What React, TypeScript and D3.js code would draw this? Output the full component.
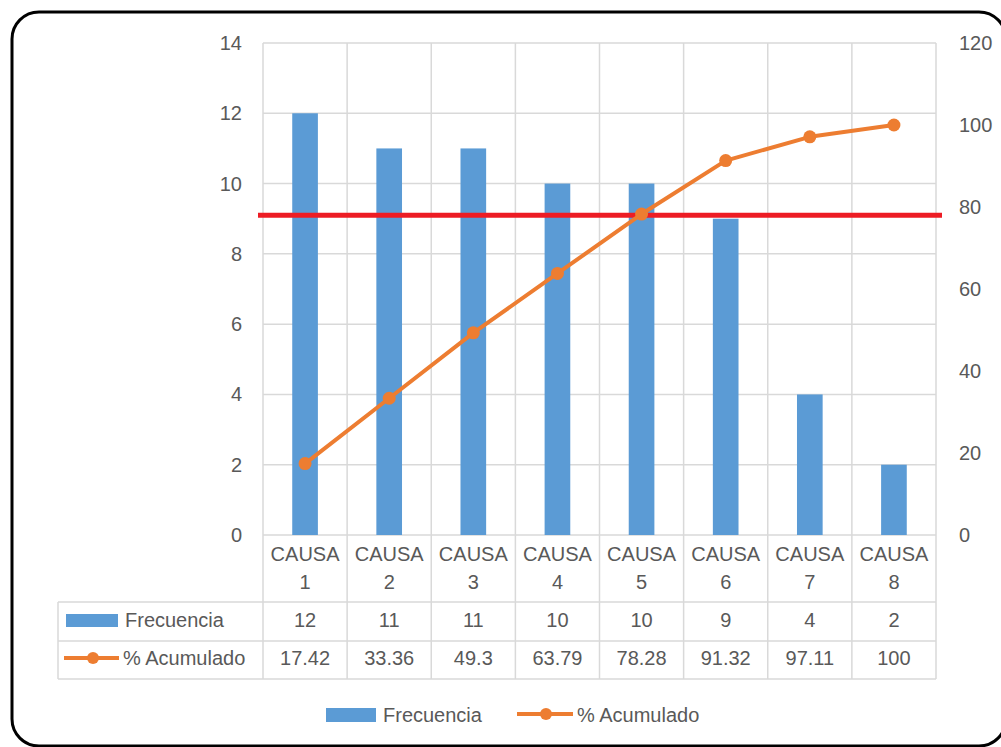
import React from "react";
import * as d3 from "d3";

const categories = ["CAUSA 1", "CAUSA 2", "CAUSA 3", "CAUSA 4", "CAUSA 5", "CAUSA 6", "CAUSA 7", "CAUSA 8"];
const frecuencia = [12, 11, 11, 10, 10, 9, 4, 2];
const acumulado = [17.42, 33.36, 49.3, 63.79, 78.28, 91.32, 97.11, 100];
const leftTicks = [0, 2, 4, 6, 8, 10, 12, 14];
const rightTicks = [0, 20, 40, 60, 80, 100, 120];
const threshold = 78;
const seriesNames = ["Frecuencia", "% Acumulado"];

const W = 1001;
const H = 747;
const plotL = 263;
const plotR = 936;
const plotT = 43;
const plotB = 535;
const tableL = 58;
const row1B = 602;
const row2B = 641;
const row3B = 679;

const BLUE = "#5B9BD5";
const ORANGE = "#ED7D31";
const RED = "#ED1C24";
const GRID = "#D9D9D9";
const TEXT = "#595959";
const FONT = "'Liberation Sans', Arial, sans-serif";

export default function App() {
  const x = d3.scaleBand<string>().domain(categories).range([plotL, plotR]).paddingInner(0).paddingOuter(0);
  const yL = d3.scaleLinear().domain([0, 14]).range([plotB, plotT]);
  const yR = d3.scaleLinear().domain([0, 120]).range([plotB, plotT]);
  const bw = x.bandwidth();
  const barW = bw * 0.305;
  const line = d3
    .line<number>()
    .x((_, i) => (x(categories[i]) as number) + bw / 2)
    .y((d) => yR(d));
  const bounds = [...categories.map((c) => x(c) as number), plotR];

  return (
    <svg width={W} height={H} style={{ display: "block", position: "absolute", left: 0, top: 0 }} fontFamily={FONT}>
      <rect x={0} y={0} width={W} height={H} fill="#fff" />
      <rect x={12} y={12} width={994} height={734} rx={27} ry={27} fill="#fff" stroke="#000" strokeWidth={3} />

      {/* horizontal gridlines */}
      {leftTicks.map((t) => (
        <line key={"h" + t} x1={plotL} x2={plotR} y1={yL(t)} y2={yL(t)} stroke={GRID} strokeWidth={1.5} />
      ))}
      {/* vertical gridlines / table columns */}
      {bounds.map((b, i) => (
        <line key={"v" + i} x1={b} x2={b} y1={plotT} y2={row3B} stroke={GRID} strokeWidth={1.5} />
      ))}
      {/* table lines */}
      <line x1={tableL} x2={tableL} y1={row1B} y2={row3B} stroke={GRID} strokeWidth={1.5} />
      {[row1B, row2B, row3B].map((yy) => (
        <line key={"r" + yy} x1={tableL} x2={plotR} y1={yy} y2={yy} stroke={GRID} strokeWidth={1.5} />
      ))}

      {/* bars */}
      {frecuencia.map((v, i) => (
        <rect
          key={"b" + i}
          x={(x(categories[i]) as number) + bw / 2 - barW / 2}
          y={yL(v)}
          width={barW}
          height={yL(0) - yL(v)}
          fill={BLUE}
        />
      ))}

      {/* threshold line */}
      <line x1={258} x2={942} y1={yR(threshold)} y2={yR(threshold)} stroke={RED} strokeWidth={5} />

      {/* cumulative line */}
      <path d={line(acumulado) || ""} fill="none" stroke={ORANGE} strokeWidth={4} strokeLinejoin="round" />
      {acumulado.map((v, i) => (
        <circle key={"m" + i} cx={(x(categories[i]) as number) + bw / 2} cy={yR(v)} r={6.5} fill={ORANGE} />
      ))}

      {/* left axis labels */}
      {leftTicks.map((t) => (
        <text key={"lt" + t} x={242} y={yL(t)} dy="0.35em" textAnchor="end" fontSize={20} fill={TEXT}>
          {t}
        </text>
      ))}
      {/* right axis labels */}
      {rightTicks.map((t) => (
        <text key={"rt" + t} x={959} y={yR(t)} dy="0.35em" textAnchor="start" fontSize={20} fill={TEXT}>
          {t}
        </text>
      ))}

      {/* category labels */}
      {categories.map((c) => {
        const parts = c.split(" ");
        const cx = (x(c) as number) + bw / 2;
        return (
          <text key={"c" + c} x={cx} textAnchor="middle" fontSize={20} fill={TEXT}>
            <tspan x={cx} y={554} dy="0.35em">{parts[0]}</tspan>
            <tspan x={cx} y={582} dy="0.35em">{parts[1]}</tspan>
          </text>
        );
      })}

      {/* table rows */}
      <rect x={66} y={614} width={52} height={13} fill={BLUE} />
      <text x={125} y={620} dy="0.35em" fontSize={20} fill={TEXT}>{seriesNames[0]}</text>
      <line x1={64} x2={119} y1={658} y2={658} stroke={ORANGE} strokeWidth={4} />
      <circle cx={93} cy={658} r={6} fill={ORANGE} />
      <text x={123} y={658} dy="0.35em" fontSize={20} fill={TEXT}>{seriesNames[1]}</text>
      {frecuencia.map((v, i) => (
        <text key={"tf" + i} x={(x(categories[i]) as number) + bw / 2} y={620} dy="0.35em" textAnchor="middle" fontSize={20} fill={TEXT}>
          {v}
        </text>
      ))}
      {acumulado.map((v, i) => (
        <text key={"ta" + i} x={(x(categories[i]) as number) + bw / 2} y={658} dy="0.35em" textAnchor="middle" fontSize={20} fill={TEXT}>
          {v}
        </text>
      ))}

      {/* legend */}
      <rect x={326} y={708} width={50} height={14} fill={BLUE} />
      <text x={383} y={715} dy="0.35em" fontSize={20} fill={TEXT}>{seriesNames[0]}</text>
      <line x1={517} x2={573} y1={714} y2={714} stroke={ORANGE} strokeWidth={4} />
      <circle cx={546} cy={714} r={6} fill={ORANGE} />
      <text x={577} y={715} dy="0.35em" fontSize={20} fill={TEXT}>{seriesNames[1]}</text>
    </svg>
  );
}
